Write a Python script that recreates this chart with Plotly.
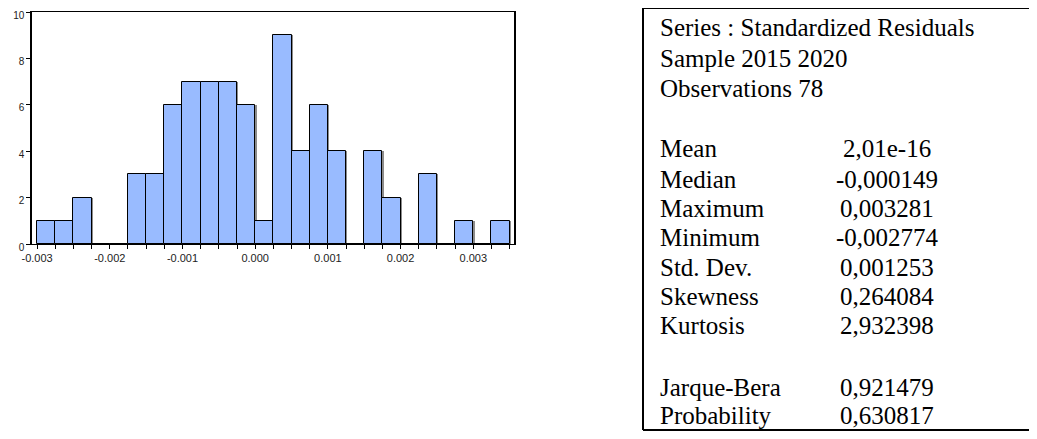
import plotly.graph_objects as go

# ---- data ----
bin_left = [-0.003, -0.00275, -0.0025, -0.00225, -0.002, -0.00175, -0.0015,
            -0.00125, -0.001, -0.00075, -0.0005, -0.00025, 0.0, 0.00025,
            0.0005, 0.00075, 0.001, 0.00125, 0.0015, 0.00175, 0.002,
            0.00225, 0.0025, 0.00275, 0.003, 0.00325]
counts = [1, 1, 2, 0, 0, 3, 3, 6, 7, 7, 7, 6, 1, 9, 4, 6, 4, 0, 4, 2, 0,
          3, 0, 1, 0, 1]
x_tick_vals = [-0.003, -0.002, -0.001, 0.0, 0.001, 0.002, 0.003]
x_tick_text = ["-0.003", "-0.002", "-0.001", "0.000", "0.001", "0.002", "0.003"]
y_tick_vals = [0, 2, 4, 6, 8, 10]

header_lines = ["Series : Standardized Residuals", "Sample 2015 2020", "Observations 78"]
stat_labels = ["Mean", "Median", "Maximum", "Minimum", "Std. Dev.", "Skewness", "Kurtosis"]
stat_values = ["2,01e-16", "-0,000149", "0,003281", "-0,002774", "0,001253", "0,264084", "2,932398"]
test_labels = ["Jarque-Bera", "Probability"]
test_values = ["0,921479", "0,630817"]

BIN_W = 0.00025
SHADOW_DX = 0.000018   # small offset for the bar drop-shadow

# ---- layout geometry (target page pixels) ----
OX, OY = 8, 8            # default page body margin
W, H = 1037 - 2 * OX, 439 - 2 * OY
PL, PR, PT, PB = 32 - OX, 514 - OX, 12 - OY, 244 - OY


def px(xp):
    return (xp - OX - PL) / (PR - PL)


def py(yp):
    return (PB - (yp - OY)) / (PB - PT)


fig = go.Figure()
fig.add_trace(go.Bar(
    x=bin_left, y=counts, width=BIN_W, offset=SHADOW_DX,
    marker=dict(color="#8c8c8c", line=dict(width=0)),
    hoverinfo="skip",
))
fig.add_trace(go.Bar(
    x=bin_left, y=counts, width=BIN_W, offset=0,
    marker=dict(color="#99BBFF", line=dict(color="black", width=1)),
    hoverinfo="skip",
))

axis_font = dict(family="Liberation Sans, Arial", size=11, color="#222")
fig.update_xaxes(
    range=[-0.00307, 0.00356], tickvals=x_tick_vals, ticktext=x_tick_text,
    ticks="outside", ticklen=4, tickcolor="black", tickwidth=1,
    minor=dict(dtick=BIN_W, tick0=-0.003, ticks="outside", ticklen=4,
               tickcolor="black", tickwidth=1, showgrid=False),
    showline=True, linecolor="black", linewidth=1, mirror=True,
    showgrid=False, zeroline=False, tickfont=axis_font, automargin=False,
    ticklabeloverflow="allow",
)
fig.update_yaxes(
    range=[0, 10], tickvals=y_tick_vals, ticks="outside", ticklen=4,
    tickcolor="black", showline=True, linecolor="black", linewidth=1.5,
    mirror=True, showgrid=False, zeroline=False,
    tickfont=dict(family="Liberation Sans, Arial", size=10, color="#222"),
    automargin=False, ticklabeloverflow="allow", ticklabelshift=3,
)

# stats box (left, top, bottom edges; right edge lies beyond the page)
box_line = dict(color="black", width=2)
BX0, BX1, BY0, BY1 = 643, 1045, 8, 430
for (xa, ya, xb, yb) in [(BX0, BY0, BX0, BY1), (BX0, BY0, BX1, BY0), (BX0, BY1, BX1, BY1)]:
    fig.add_shape(type="line", xref="paper", yref="paper",
                  x0=px(xa), y0=py(ya), x1=px(xb), y1=py(yb), line=box_line)

serif = dict(family="Liberation Serif, Times New Roman", size=25, color="black")
LX = 658
VX = 887
header_y = [27, 58, 88]
stat_y = [149, 179, 208, 237, 267, 296, 325]
test_y = [387, 415]

ann = []
for t, yy in zip(header_lines, header_y):
    ann.append(dict(text=t, x=px(LX), y=py(yy), xanchor="left", yanchor="middle"))
for lab, val, yy in zip(stat_labels + test_labels, stat_values + test_values, stat_y + test_y):
    ann.append(dict(text=lab, x=px(LX), y=py(yy), xanchor="left", yanchor="middle"))
    ann.append(dict(text=val, x=px(VX), y=py(yy), xanchor="center", yanchor="middle"))
for a in ann:
    a.update(xref="paper", yref="paper", showarrow=False, font=serif)
fig.update_layout(annotations=ann)

fig.update_layout(
    width=W, height=H, autosize=False,
    margin=dict(l=PL, r=W - PR, t=PT, b=H - PB, pad=0),
    plot_bgcolor="white", paper_bgcolor="white",
    showlegend=False, bargap=0, barmode="overlay",
)

fig.write_html("out.html", config={"displayModeBar": False})
